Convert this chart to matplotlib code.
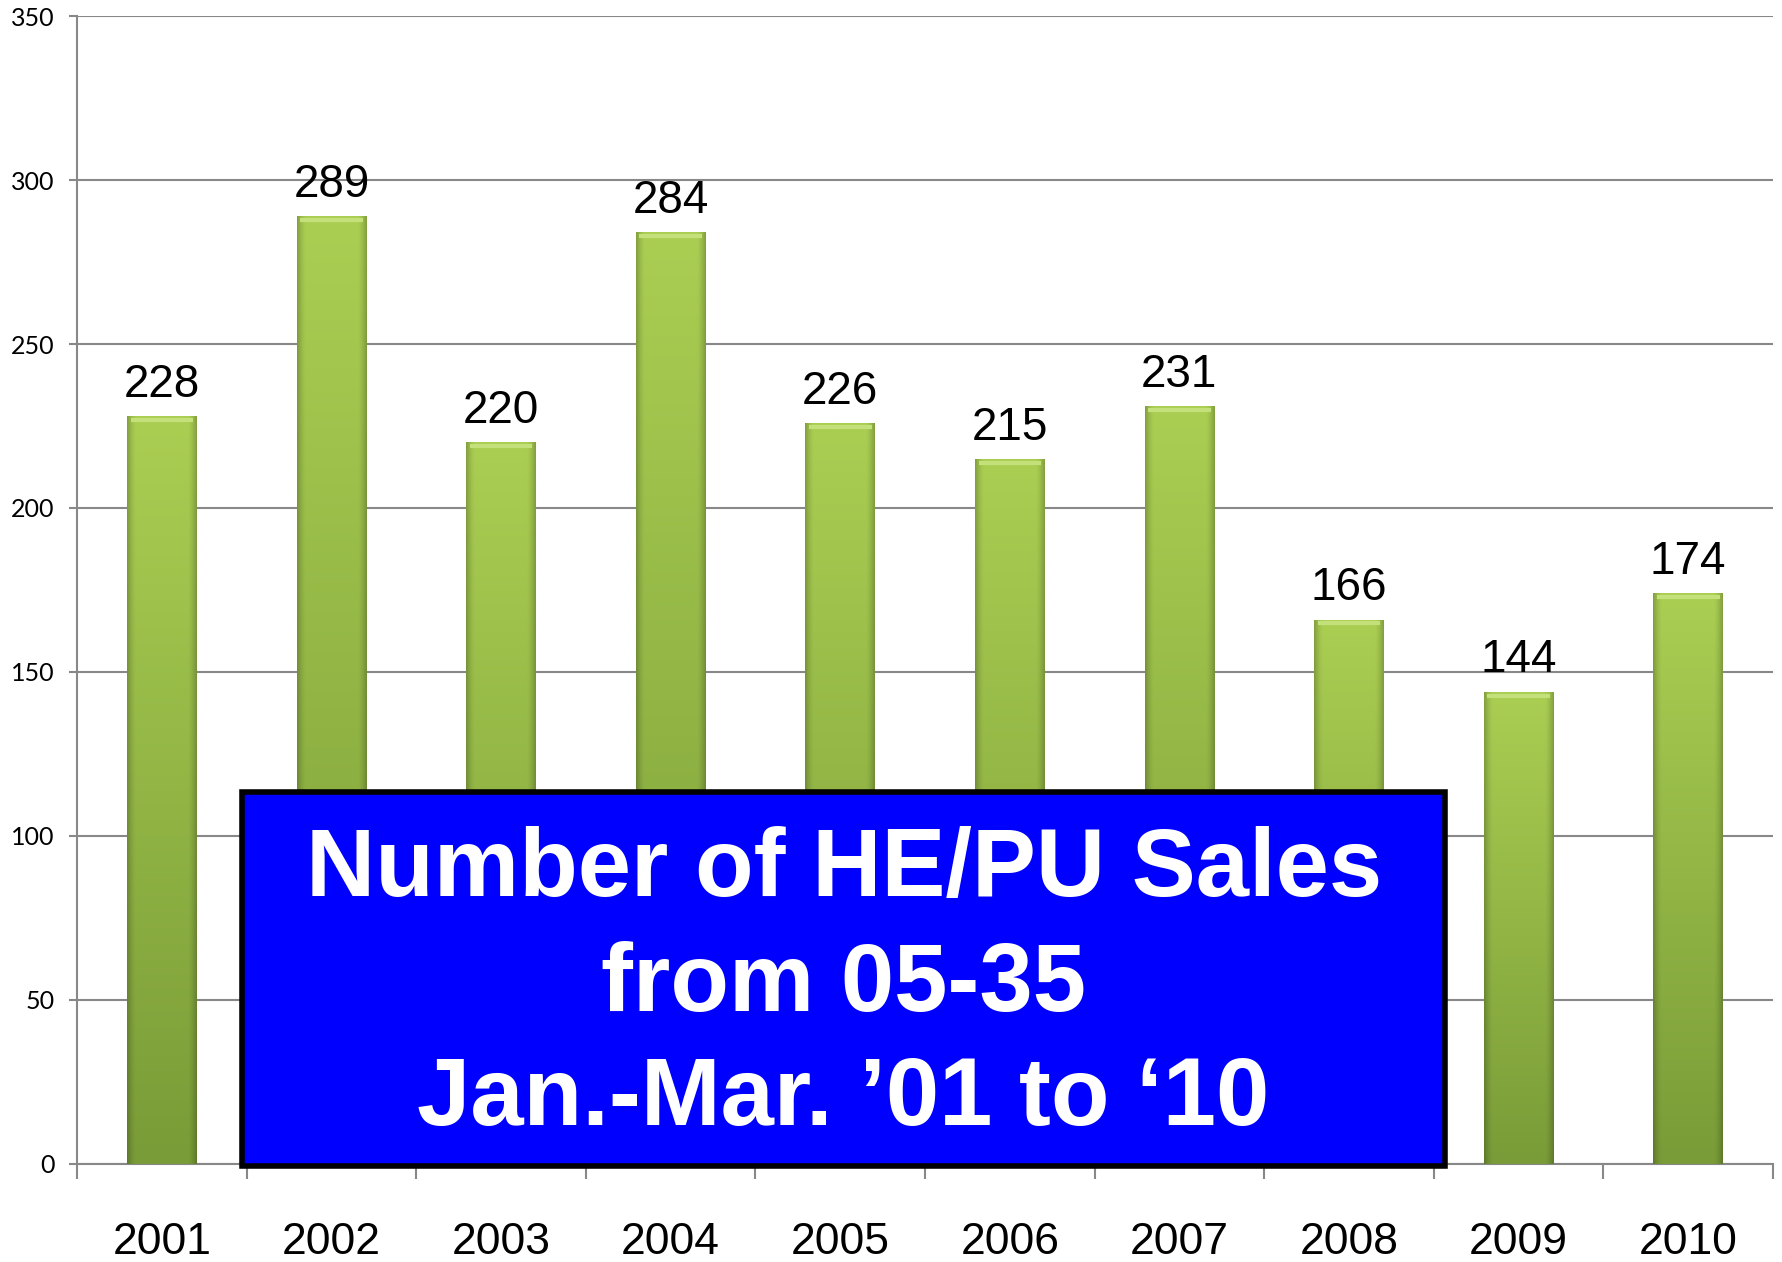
import numpy as np
import matplotlib.pyplot as plt
from matplotlib.patches import Rectangle

# Values
years = ['2001', '2002', '2003', '2004', '2005', '2006', '2007', '2008', '2009', '2010']
sales = [228, 289, 220, 284, 226, 215, 231, 166, 144, 174]
y_ticks = [0, 50, 100, 150, 200, 250, 300, 350]
title_lines = ['Number of HE/PU Sales', 'from 05-35', 'Jan.-Mar. \u201901 to \u201810']


def bar_shade(n=64):
    # vertical: light at top, darker at bottom; horizontal: darker near edges
    top = np.array([170, 206, 82]) / 255
    bottom = np.array([122, 156, 56]) / 255
    t = np.linspace(0, 1, n)[:, None, None]
    img = top * (1 - t) + bottom * t
    xs = np.linspace(-1, 1, n)
    edge = 1 - 0.22 * np.clip((np.abs(xs) - 0.75) / 0.25, 0, 1) ** 1.5
    img = img * edge[None, :, None]
    return np.clip(img, 0, 1)


fig = plt.figure(figsize=(17.83, 12.62), dpi=100)
ax = fig.add_axes([0.0432, 0.0777, 0.9512, 0.9096])

x = np.arange(len(years))
bars = ax.bar(x, sales, width=0.41, color='#9cbf48', zorder=2)

shade = bar_shade()
for b in bars:
    x0, w, h = b.get_x(), b.get_width(), b.get_height()
    im = ax.imshow(shade, extent=[x0, x0 + w, 0, h], aspect='auto', zorder=3,
                   interpolation='bilinear')
    im.set_clip_path(b)
    # bevel highlight on the top edge
    ax.plot([x0 + w * 0.05, x0 + w * 0.95], [h - 1.2, h - 1.2], color='#c4e07a',
            lw=3, zorder=4, solid_capstyle='butt')
    ax.text(x0 + w / 2, h + 2.8, str(h), ha='center', va='bottom', fontsize=33,
            family='Liberation Sans', zorder=5)

ax.set_xlim(-0.5, len(years) - 0.5)
ax.set_ylim(0, 350)
ax.set_yticks(y_ticks)
ax.set_yticklabels([str(v) for v in y_ticks], fontsize=18, family='Lato')
ax.set_xticks(np.arange(len(years) + 1) - 0.5, minor=False)
ax.set_xticklabels([])
ax.set_xticks(x, minor=True)
ax.set_xticklabels(years, minor=True, fontsize=32, family='Liberation Sans')
ax.tick_params(axis='x', which='major', length=11, width=1.5, color='#888888')
ax.tick_params(axis='x', which='minor', length=0, pad=42)
ax.tick_params(axis='y', length=6, width=1.5, color='#888888', pad=10)

ax.grid(axis='y', color='#888888', lw=1.5, zorder=1)
ax.set_axisbelow(True)
for s in ['top', 'right']:
    ax.spines[s].set_visible(False)
for s in ['left', 'bottom']:
    ax.spines[s].set_color('#888888')
    ax.spines[s].set_linewidth(1.5)

# Blue title box over the lower part of the bars
box = Rectangle((0.473, -0.5), 7.09, 113.9, facecolor='#0000ff', edgecolor='black',
                lw=4, zorder=10, clip_on=False)
ax.add_patch(box)
for i, line in enumerate(title_lines):
    ax.text(4.02, 89.2 - i * 34.8, line, ha='center', va='center', color='white',
            fontsize=69, fontweight='bold', family='Liberation Sans', zorder=11)

fig.savefig('out.png', dpi=100)
